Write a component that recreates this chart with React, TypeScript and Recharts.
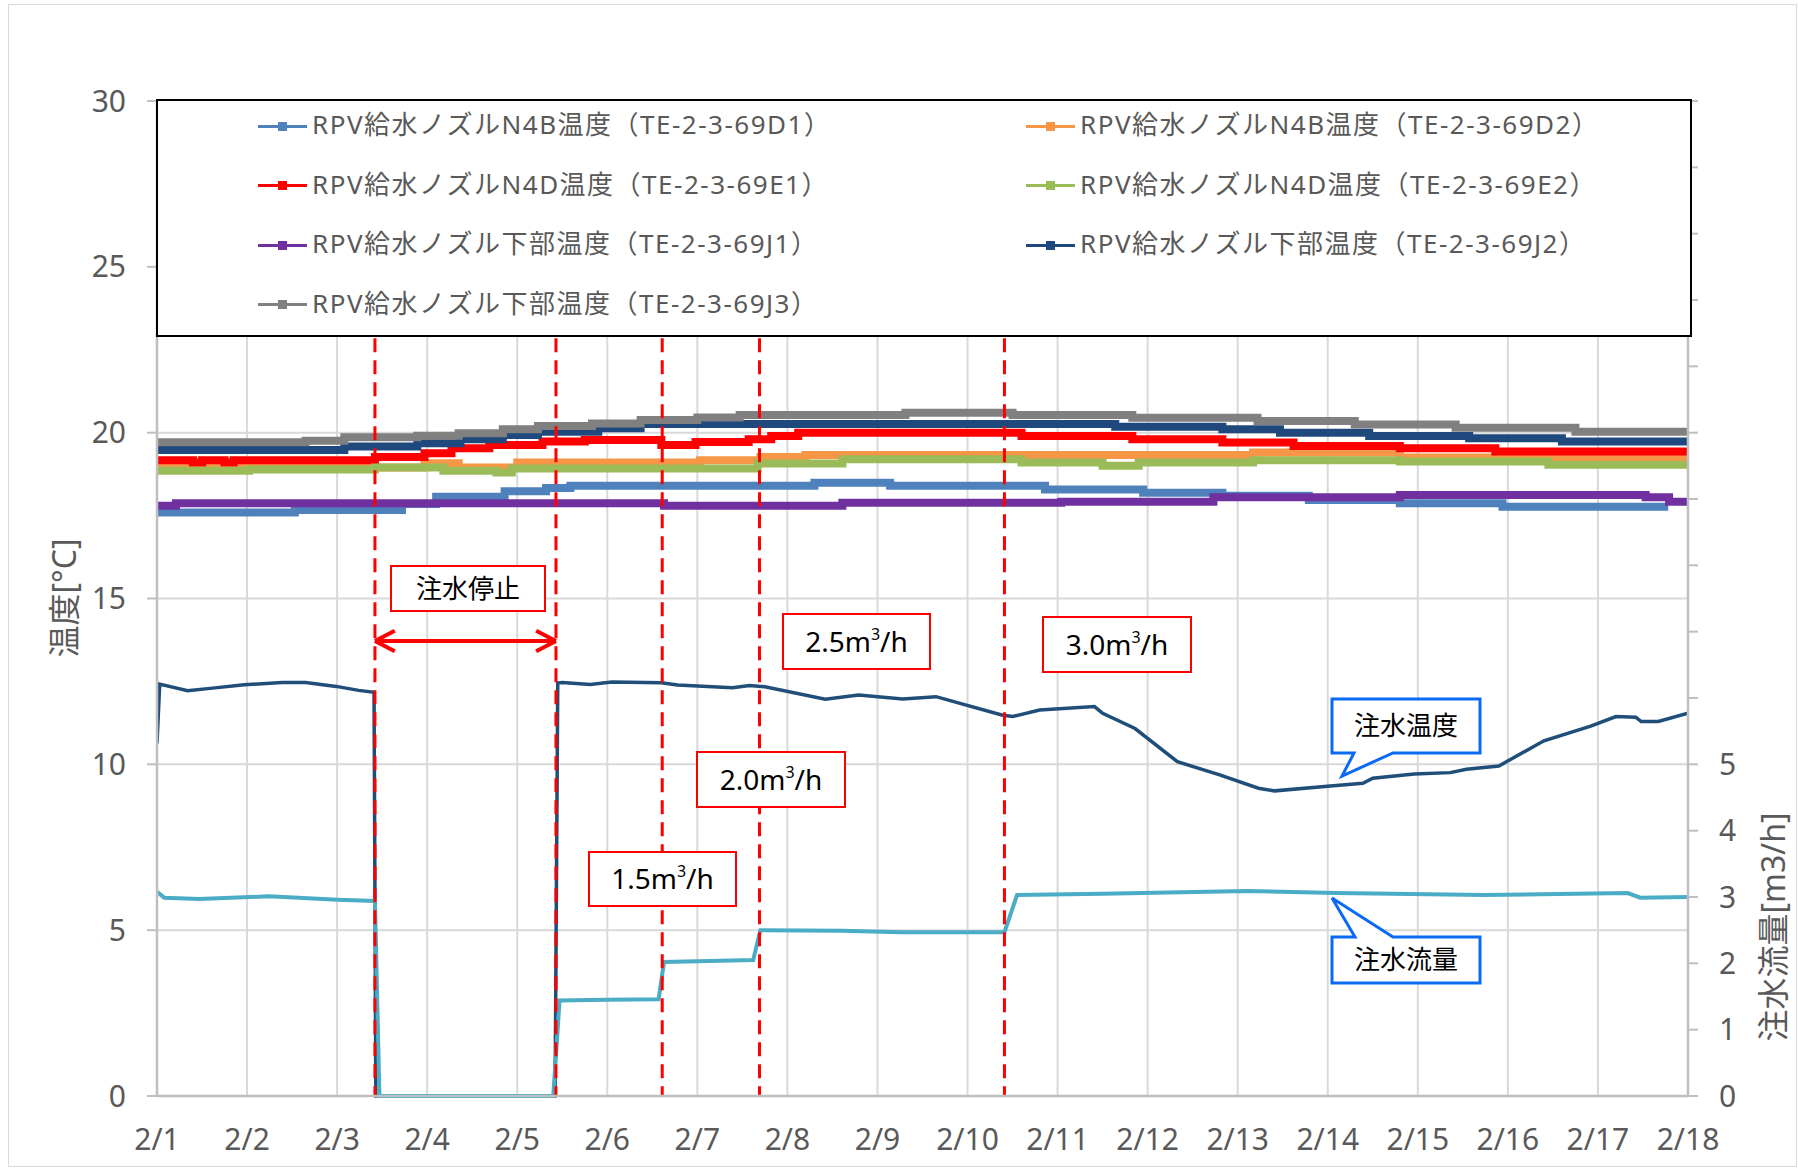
import React from "react";
import {
  ComposedChart,
  Line,
  XAxis,
  YAxis,
  CartesianGrid,
  ReferenceLine,
} from "recharts";

// x = days since 2/1 00:00
const dayTicks = [0, 1, 2, 3, 4, 5, 6, 7, 8, 9, 10, 11, 12, 13, 14, 15, 16, 17];
const dayLabels = ["2/1", "2/2", "2/3", "2/4", "2/5", "2/6", "2/7", "2/8", "2/9", "2/10", "2/11", "2/12", "2/13", "2/14", "2/15", "2/16", "2/17", "2/18"];
const tempTicks = [0, 5, 10, 15, 20, 25, 30];
const flowTicks = [0, 1, 2, 3, 4, 5, 6, 7, 8, 9, 10, 11, 12, 13, 14, 15];

// RPV feedwater nozzle temperatures (step data)
const d1Days = [0, 1.53, 2.72, 3.1, 3.86, 4.32, 4.59, 7.3, 8.14, 9.86, 10.95, 11.83, 12.79, 13.8, 14.94, 16.78];
const d1Temp = [17.59, 17.67, 17.85, 18.07, 18.23, 18.33, 18.4, 18.49, 18.4, 18.29, 18.19, 18.1, 17.97, 17.87, 17.77, 17.77];

const d2Days = [0, 2.97, 3.35, 4.0, 6.03, 6.7, 7.2, 12.17, 13.8, 17];
const d2Temp = [18.95, 19.08, 18.95, 19.1, 19.17, 19.27, 19.33, 19.4, 19.25, 19.25];

const e1Days = [0, 0.4, 0.5, 0.75, 0.85, 2.42, 2.97, 3.27, 3.69, 4.28, 4.75, 5.6, 5.98, 6.57, 6.82, 7.12, 9.6, 10.83, 11.83, 12.62, 13.8, 14.86, 17];
const e1Temp = [19.17, 19.1, 19.17, 19.1, 19.17, 19.27, 19.38, 19.53, 19.63, 19.73, 19.78, 19.63, 19.72, 19.8, 19.9, 20.0, 19.9, 19.8, 19.7, 19.6, 19.53, 19.43, 19.43];

const e2Days = [0, 1.02, 2.42, 3.18, 3.77, 3.94, 6.67, 7.61, 9.6, 10.5, 10.9, 12.17, 13.8, 15.45, 17];
const e2Temp = [18.85, 18.89, 18.95, 18.85, 18.8, 18.92, 19.07, 19.2, 19.1, 19.0, 19.1, 19.17, 19.13, 19.03, 19.03];

const j1Days = [0, 0.21, 5.63, 7.61, 10.04, 11.73, 13.8, 16.53, 16.79, 17];
const j1Temp = [17.8, 17.87, 17.8, 17.89, 17.92, 18.05, 18.12, 18.05, 17.92, 17.92];

const j2Days = [0, 2.08, 2.89, 3.37, 3.84, 4.23, 4.9, 5.37, 10.64, 11.83, 12.47, 13.46, 14.57, 15.6, 17];
const j2Temp = [19.48, 19.58, 19.68, 19.8, 19.93, 20.03, 20.13, 20.26, 20.18, 20.1, 20.0, 19.9, 19.83, 19.73, 19.73];

const j3Days = [0, 1.65, 2.08, 2.89, 3.35, 3.84, 4.23, 4.83, 5.37, 6.0, 6.47, 8.31, 9.5, 10.83, 12.22, 13.3, 14.42, 15.75, 17];
const j3Temp = [19.71, 19.76, 19.86, 19.91, 19.98, 20.1, 20.2, 20.28, 20.38, 20.46, 20.53, 20.6, 20.53, 20.45, 20.35, 20.25, 20.15, 20.03, 20.03];

// injection water temperature (left axis)
const injTempDays = [0, 0.03, 0.34, 0.59, 0.97, 1.39, 1.65, 1.99, 2.24, 2.41, 2.43, 4.42, 4.45, 4.5, 4.81, 5.05, 5.6, 5.78, 6.39, 6.58, 6.75, 7.42, 7.79, 8.28, 8.65, 9.38, 9.5, 9.8, 10.41, 10.5, 10.86, 11.33, 11.8, 12.23, 12.41, 13.03, 13.39, 13.5, 13.96, 14.36, 14.54, 14.9, 15.4, 15.92, 16.2, 16.42, 16.48, 16.67, 17];
const injTemp = [10.63, 12.42, 12.22, 12.29, 12.4, 12.47, 12.47, 12.35, 12.23, 12.17, 0, 0, 12.45, 12.47, 12.41, 12.48, 12.46, 12.39, 12.31, 12.38, 12.34, 11.96, 12.09, 11.97, 12.04, 11.49, 11.44, 11.64, 11.74, 11.54, 11.08, 10.08, 9.68, 9.28, 9.2, 9.35, 9.43, 9.58, 9.71, 9.75, 9.85, 9.95, 10.71, 11.15, 11.44, 11.42, 11.29, 11.29, 11.54];

// injection flow (right axis, m3/h)
const flowDays = [0, 0.08, 0.47, 1.24, 1.57, 2.0, 2.42, 2.47, 4.4, 4.47, 5.0, 5.57, 5.63, 6.0, 6.62, 6.7, 7.6, 8.26, 9.41, 9.55, 10.5, 12.1, 13.09, 14.73, 16.33, 16.47, 17];
const flowRate = [3.08, 2.99, 2.97, 3.01, 2.99, 2.96, 2.94, 0, 0, 1.44, 1.45, 1.46, 2.02, 2.03, 2.05, 2.5, 2.49, 2.47, 2.47, 3.03, 3.05, 3.09, 3.06, 3.03, 3.06, 2.99, 3.0];

// flow change events
const eventDays = [2.42, 4.43, 5.61, 6.69, 9.41];

const toPoints = (days: number[], vals: number[]) =>
  days.map((d, i) => ({ d, v: vals[i] }));

const tempSeries = [
  { name: "RPV給水ノズルN4B温度（TE-2-3-69D1）", color: "#4F81BD", days: d1Days, vals: d1Temp },
  { name: "RPV給水ノズルN4B温度（TE-2-3-69D2）", color: "#F79646", days: d2Days, vals: d2Temp },
  { name: "RPV給水ノズルN4D温度（TE-2-3-69E1）", color: "#FF0000", days: e1Days, vals: e1Temp },
  { name: "RPV給水ノズルN4D温度（TE-2-3-69E2）", color: "#9BBB59", days: e2Days, vals: e2Temp },
  { name: "RPV給水ノズル下部温度（TE-2-3-69J1）", color: "#7030A0", days: j1Days, vals: j1Temp },
  { name: "RPV給水ノズル下部温度（TE-2-3-69J2）", color: "#1F497D", days: j2Days, vals: j2Temp },
  { name: "RPV給水ノズル下部温度（TE-2-3-69J3）", color: "#808080", days: j3Days, vals: j3Temp },
];

const FONT = "'Noto Sans', 'Noto Sans CJK JP', sans-serif";
const AXIS = "#BFBFBF";
const GRID = "#D9D9D9";
const TEXT = "#595959";
const RED = "#FF0000";
const BLUE = "#0A6AF5";

function Legend() {
  return (
    <div
      style={{
        position: "absolute",
        left: 156,
        top: 99,
        width: 1536,
        height: 238,
        boxSizing: "border-box",
        border: "2px solid #000",
        background: "#fff",
      }}
    >
      {tempSeries.map((s, i) => {
        const col = i % 2;
        const row = Math.floor(i / 2);
        return (
          <div
            key={s.name}
            style={{
              position: "absolute",
              left: (col === 0 ? 256 : 1024) - 156,
              top: 121 + row * 59.5 - 99 - 20,
              height: 40,
              display: "flex",
              alignItems: "center",
              whiteSpace: "nowrap",
            }}
          >
            <div style={{ position: "relative", width: 49, height: 10, marginRight: 5, top: 3 }}>
              <div style={{ position: "absolute", left: 0, top: 3.5, width: 49, height: 3, background: s.color }} />
              <div style={{ position: "absolute", left: 20, top: 0.5, width: 9, height: 9, background: s.color }} />
            </div>
            <span style={{ fontSize: 26, letterSpacing: 1.5, color: TEXT, fontFamily: FONT }}>{s.name}</span>
          </div>
        );
      })}
    </div>
  );
}

function RateBox({ x, y, w, h, rate }: { x: number; y: number; w: number; h: number; rate: string }) {
  return (
    <g>
      <rect x={x} y={y} width={w} height={h} fill="#fff" stroke={RED} strokeWidth={2} />
      <text x={x + w / 2} y={y + h / 2 + 10} textAnchor="middle" fontSize={28} fill="#000">
        {rate}m<tspan fontSize={16} dy={-12}>3</tspan>
        <tspan dy={12}>/h</tspan>
      </text>
    </g>
  );
}

function Overlay() {
  return (
    <svg
      width={1798}
      height={1170}
      style={{ position: "absolute", left: 0, top: 0, pointerEvents: "none", fontFamily: FONT }}
    >
      <text transform="translate(63,598) rotate(-90)" textAnchor="middle" dominantBaseline="central" fontSize={32} fill={TEXT}>
        温度[°C]
      </text>
      <text transform="translate(1772,927) rotate(-90)" textAnchor="middle" dominantBaseline="central" fontSize={32} fill={TEXT}>
        注水流量[m3/h]
      </text>

      <rect x={391} y={566} width={154} height={45} fill="#fff" stroke={RED} strokeWidth={2} />
      <text x={468} y={598} textAnchor="middle" fontSize={26} fill="#000">注水停止</text>

      <RateBox x={589} y={852} w={147} h={54} rate="1.5" />
      <RateBox x={697} y={752} w={148} h={55} rate="2.0" />
      <RateBox x={783} y={614} w={147} h={55} rate="2.5" />
      <RateBox x={1043} y={617} w={148} h={55} rate="3.0" />

      <path
        d="M1332,699 H1480 V753 H1393 L1342,776 L1354,753 H1332 Z"
        fill="#fff"
        stroke={BLUE}
        strokeWidth={3}
      />
      <text x={1406} y={735} textAnchor="middle" fontSize={26} fill="#000">注水温度</text>
      <path
        d="M1332,983 V937 H1355 L1332,898 L1393,937 H1480 V983 Z"
        fill="#fff"
        stroke={BLUE}
        strokeWidth={3}
      />
      <text x={1406} y={969} textAnchor="middle" fontSize={26} fill="#000">注水流量</text>
    </svg>
  );
}

export default function App() {
  return (
    <div
      style={{
        position: "absolute",
        left: 0,
        top: 0,
        width: 1798,
        height: 1170,
        background: "#fff",
        fontFamily: FONT,
      }}
    >
      {/* chart area frame */}
      <div
        style={{
          position: "absolute",
          left: 8,
          top: 4,
          width: 1789,
          height: 1163,
          boxSizing: "border-box",
          border: "1.5px solid #D9D9D9",
        }}
      />
      <div style={{ position: "absolute", left: 0, top: 0 }}>
        <ComposedChart width={1798} height={1170} margin={{ top: 101, right: 0, bottom: 0, left: 0 }}>
          <CartesianGrid yAxisId="left" stroke={GRID} strokeWidth={2} />
          <XAxis
            dataKey="d"
            type="number"
            domain={[0, 17]}
            ticks={dayTicks}
            interval={0}
            tickFormatter={(v: number) => dayLabels[v]}
            height={74}
            tickLine={false}
            tickSize={0}
            tickMargin={33}
            axisLine={{ stroke: AXIS, strokeWidth: 2.5 }}
            tick={{ fill: TEXT, fontSize: 30, fontFamily: "Noto Sans" }}
            allowDataOverflow
          />
          <YAxis
            yAxisId="left"
            domain={[0, 30]}
            ticks={tempTicks}
            interval={0}
            width={157}
            tickSize={10}
            tickMargin={21}
            tickLine={{ stroke: AXIS, strokeWidth: 2 }}
            axisLine={{ stroke: AXIS, strokeWidth: 2.5 }}
            tick={{ fill: TEXT, fontSize: 30, fontFamily: "Noto Sans" }}
          />
          <YAxis
            yAxisId="right"
            orientation="right"
            domain={[0, 15]}
            ticks={flowTicks}
            interval={0}
            width={110}
            tickSize={10}
            tickMargin={21}
            tickFormatter={(v: number) => (v <= 5 ? String(v) : "")}
            tickLine={{ stroke: AXIS, strokeWidth: 2 }}
            axisLine={{ stroke: AXIS, strokeWidth: 2.5 }}
            tick={{ fill: TEXT, fontSize: 30, fontFamily: "Noto Sans" }}
          />

          {tempSeries.map((s) => (
            <Line
              key={s.name}
              yAxisId="left"
              name={s.name}
              data={toPoints(s.days, s.vals)}
              dataKey="v"
              type="stepAfter"
              stroke={s.color}
              strokeWidth={8}
              dot={false}
              isAnimationActive={false}
            />
          ))}
          <Line
            yAxisId="left"
            name="注水温度"
            data={toPoints(injTempDays, injTemp)}
            dataKey="v"
            type="linear"
            stroke="#1F4E79"
            strokeWidth={3.5}
            dot={false}
            isAnimationActive={false}
          />
          <Line
            yAxisId="right"
            name="注水流量"
            data={toPoints(flowDays, flowRate)}
            dataKey="v"
            type="linear"
            stroke="#4BACC6"
            strokeWidth={4}
            dot={false}
            isAnimationActive={false}
          />

          {eventDays.map((d) => (
            <ReferenceLine
              key={d}
              yAxisId="left"
              segment={[{ x: d, y: 22.85 }, { x: d, y: 0 }]}
              stroke={RED}
              strokeWidth={3}
              strokeDasharray="14 8"
              ifOverflow="visible"
            />
          ))}
          {/* 注水停止 double arrow */}
          <ReferenceLine yAxisId="left" segment={[{ x: eventDays[0], y: 13.72 }, { x: eventDays[1], y: 13.72 }]} stroke={RED} strokeWidth={4} />
          <ReferenceLine yAxisId="left" segment={[{ x: eventDays[0], y: 13.72 }, { x: eventDays[0] + 0.22, y: 14.03 }]} stroke={RED} strokeWidth={4} />
          <ReferenceLine yAxisId="left" segment={[{ x: eventDays[0], y: 13.72 }, { x: eventDays[0] + 0.22, y: 13.41 }]} stroke={RED} strokeWidth={4} />
          <ReferenceLine yAxisId="left" segment={[{ x: eventDays[1], y: 13.72 }, { x: eventDays[1] - 0.22, y: 14.03 }]} stroke={RED} strokeWidth={4} />
          <ReferenceLine yAxisId="left" segment={[{ x: eventDays[1], y: 13.72 }, { x: eventDays[1] - 0.22, y: 13.41 }]} stroke={RED} strokeWidth={4} />
        </ComposedChart>
      </div>
      <Legend />
      <Overlay />
    </div>
  );
}
